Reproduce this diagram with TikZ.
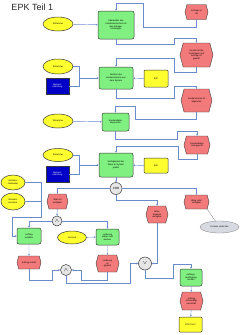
\documentclass[tikz,border=0pt]{standalone}
\usepackage{fontspec}
\setmainfont{Liberation Sans}
\usetikzlibrary{shapes.symbols,shapes.geometric,arrows.meta}
\definecolor{evred}{HTML}{F27A7A}
\definecolor{fngreen}{HTML}{80F080}
\definecolor{orgyellow}{HTML}{FFFF30}
\definecolor{sysblue}{HTML}{0000C8}
\definecolor{lnblue}{HTML}{6A8CCB}
\definecolor{bord}{HTML}{383838}
\definecolor{endgray}{HTML}{D8DAE2}
\definecolor{opgray}{HTML}{E6E6E6}
\begin{document}
\begin{tikzpicture}[x=1pt,y=-1pt,
  every node/.style={font=\fontsize{2.2}{2.7}\selectfont, align=center, inner sep=0.3pt},
  fn/.style={draw=bord, line width=0.5pt, fill=fngreen, rounded corners=2pt},
  evt/.style={signal, signal to=west and east, signal pointer angle=150, draw=bord, line width=0.4pt, fill=evred, inner xsep=0pt},
  org/.style={ellipse, draw=bord, line width=0.5pt, fill=orgyellow},
  info/.style={draw=bord, line width=0.5pt, fill=orgyellow, rounded corners=1pt},
  sys/.style={draw=bord, line width=0.4pt, fill=sysblue, text=white},
  op/.style={circle, draw=bord, line width=0.5pt, fill=opgray, inner sep=0pt, font=\fontsize{3}{3.5}\selectfont},
  fin/.style={ellipse, draw=gray, line width=0.3pt, fill=endgray},
  ln/.style={draw=lnblue, line width=0.45pt},
  arr/.style={ln, -{Stealth[length=2pt,width=1.8pt]}}]
\useasboundingbox[fill=white] (0,0) rectangle (240,335);
\node[font=\fontsize{9}{10}\selectfont, anchor=west, text=black!85] (title) at (11,7) {EPK Teil 1};
% row 1
\node[org, minimum width=30, minimum height=14] (e1) at (58,24) {Teilnehmer};
\node[fn, minimum width=36, minimum height=28] (f1) at (116,25) {Überprüfen des\\Kundenwunsches mit\\den Anfrage-\\Unterlagen};
\node[evt, minimum width=23, minimum height=15] (h1) at (196.5,12) {Anfrage ist\\da};
\node[evt, minimum width=33, minimum height=24] (h2) at (196.5,55) {Kunde hat die\\Unterlagen und\\Anfrage ist\\geprüft};
% row 2
\node[org, minimum width=30, minimum height=15] (e2) at (58,66.5) {Teilnehmer};
\node[sys, minimum width=23, minimum height=16] (s1) at (57.5,86) {Mengen-\\erfassung};
\node[fn, minimum width=34, minimum height=22] (f2) at (116,78) {Abrufen des\\Kundenstamms aus\\dem System};
\node[info, minimum width=24, minimum height=17] (o1) at (156,78.5) {SAP};
\node[evt, minimum width=31, minimum height=23] (h3) at (196.5,100.5) {Kundenstamm ist\\abgerufen};
% row 3
\node[org, minimum width=30, minimum height=14] (e3) at (58,121) {Teilnehmer};
\node[fn, minimum width=27, minimum height=18] (f3) at (115.5,122) {Kundendaten\\überprüfen};
\node[evt, minimum width=26, minimum height=18] (h4) at (197,145) {Kundendaten\\sind geprüft};
% row 4
\node[org, minimum width=30, minimum height=13] (e4) at (58,155) {Teilnehmer};
\node[fn, minimum width=34, minimum height=24] (f4) at (116,165) {Verfügbarkeit der\\Ware im System\\prüfen};
\node[info, minimum width=24, minimum height=15] (o2) at (156,165.5) {SAP};
\node[sys, minimum width=23, minimum height=16] (s2) at (57.5,174) {Mengen-\\erfassung};
\node[op, minimum size=12] (xor) at (116,188.5) {XOR};
\node[evt, minimum width=21, minimum height=15] (h5) at (57.5,201.5) {Ware ist\\verfügbar};
\node[evt, minimum width=22, minimum height=17] (h6) at (157,214.5) {Ware\\teilweise\\verfügbar};
\node[evt, minimum width=25, minimum height=14] (h7) at (196.5,202) {Ware nicht\\verfügbar};
\node[fin, minimum width=39, minimum height=12] (g1) at (219.5,227) {Prozess endet hier};
\node[org, minimum width=24, minimum height=15] (eA) at (13,182.5) {Vertriebs-\\mitarbeiter};
\node[org, minimum width=24, minimum height=17] (eB) at (13,201.5) {Vertriebs-\\assistenz};
\node[op, minimum size=10] (and1) at (57,221) {$\wedge$};
\node[fn, minimum width=24, minimum height=16] (f5) at (29,236) {Auftrag\\erstellen};
\node[org, minimum width=29, minimum height=13] (e5) at (72,237.5) {Versand};
\node[fn, minimum width=23, minimum height=16] (f6) at (107.5,237) {Lieferung\\planen und\\buchen};
\node[evt, minimum width=24, minimum height=13] (h8) at (29,262.5) {Auftrag erstellt};
\node[evt, minimum width=23, minimum height=17] (h9) at (107.5,263.5) {Lieferung\\ist\\geplant};
\node[op, minimum size=11] (and2) at (66,270) {$\wedge$};
\node[op, minimum size=13] (or) at (145,263.5) {$\vee$};
\node[fn, minimum width=22, minimum height=17] (f7) at (191,277.5) {Auftrags-\\bestätigung\\senden};
\node[evt, minimum width=23, minimum height=18] (h10) at (191.5,301) {Auftrag\\ist bestätigt\\versendet};
\node[info, minimum width=23, minimum height=15] (o3) at (190.5,324.5) {EPK Teil 2};
% connectors
\draw[arr] (e1) -- (f1);
\draw[arr] (h1.south) -- (196.5,27) -- (143,27) -- (143,3) -- (116,3) -- (f1.north);
\draw[arr] (f1.south) -- (116,44) -- (174,44) -- (174,38) -- (196.5,38) -- (h2.north);
\draw[arr] (h2.south) -- (196.5,72) -- (174,72) -- (174,58) -- (116,58) -- (f2.north);
\draw[arr] (e2.east) -- (79,66.5) -- (79,78) -- (f2.west);
\draw[ln] (s1.east) -- (79,86) -- (79,78);
\draw[arr] (o1) -- (f2);
\draw[arr] (f2.south) -- (116,98) -- (174,98) -- (174,86) -- (196.5,86) -- (h3.north);
\draw[arr] (h3.south) -- (196.5,119) -- (135,119) -- (135,106) -- (115.5,106) -- (f3.north);
\draw[arr] (e3) -- (f3);
\draw[arr] (f3.south) -- (115.5,139) -- (177,139) -- (177,131) -- (197,131) -- (h4.north);
\draw[arr] (h4.south) -- (197,159) -- (178,159) -- (178,146) -- (116,146) -- (f4.north);
\draw[arr] (e4.east) -- (79,155) -- (79,165) -- (f4.west);
\draw[ln] (s2.east) -- (79,174) -- (79,165);
\draw[arr] (o2) -- (f4);
\draw[arr] (f4) -- (xor);
\draw[arr] (xor.west) -| (h5.north);
\draw[arr] (xor.east) -| (h7.north);
\draw[arr] (xor.south) -- (116,200) -| (h6.north);
\draw[draw=gray, line width=0.3pt] (h7.south east) -- (g1.125);
\draw[ln] (eA.east) -- (41,182.5) -- (41,217) -- (12,217) -- (12,236);
\draw[ln] (eB.east) -- (41,201.5);
\draw[arr] (f5.west -| 12,0) -- (f5.west);
\draw[arr] (h5) -- (and1);
\draw[arr] (and1.west) -| (f5.north);
\draw[arr] (and1.east) -| (f6.north);
\draw[arr] (e5) -- (f6);
\draw[arr] (f5) -- (h8);
\draw[arr] (f6) -- (h9);
\draw[arr] (h8.south) -- (29,280) -- (52,280) -- (52,270) -- (and2.west);
\draw[arr] (h9.south) -- (107.5,280) -- (81,280) -- (81,270) -- (and2.east);
\draw[arr] (and2.south) -- (66,283) -- (130,283) -- (130,263.5) -- (or.west);
\draw[arr] (h6.south) |- (or.east);
\draw[arr] (or.south) -- (145,278) -- (173,278) -- (173,264) -- (191,264) -- (f7.north);
\draw[arr] (f7) -- (h10);
\draw[arr] (h10) -- (o3);
\end{tikzpicture}
\end{document}
